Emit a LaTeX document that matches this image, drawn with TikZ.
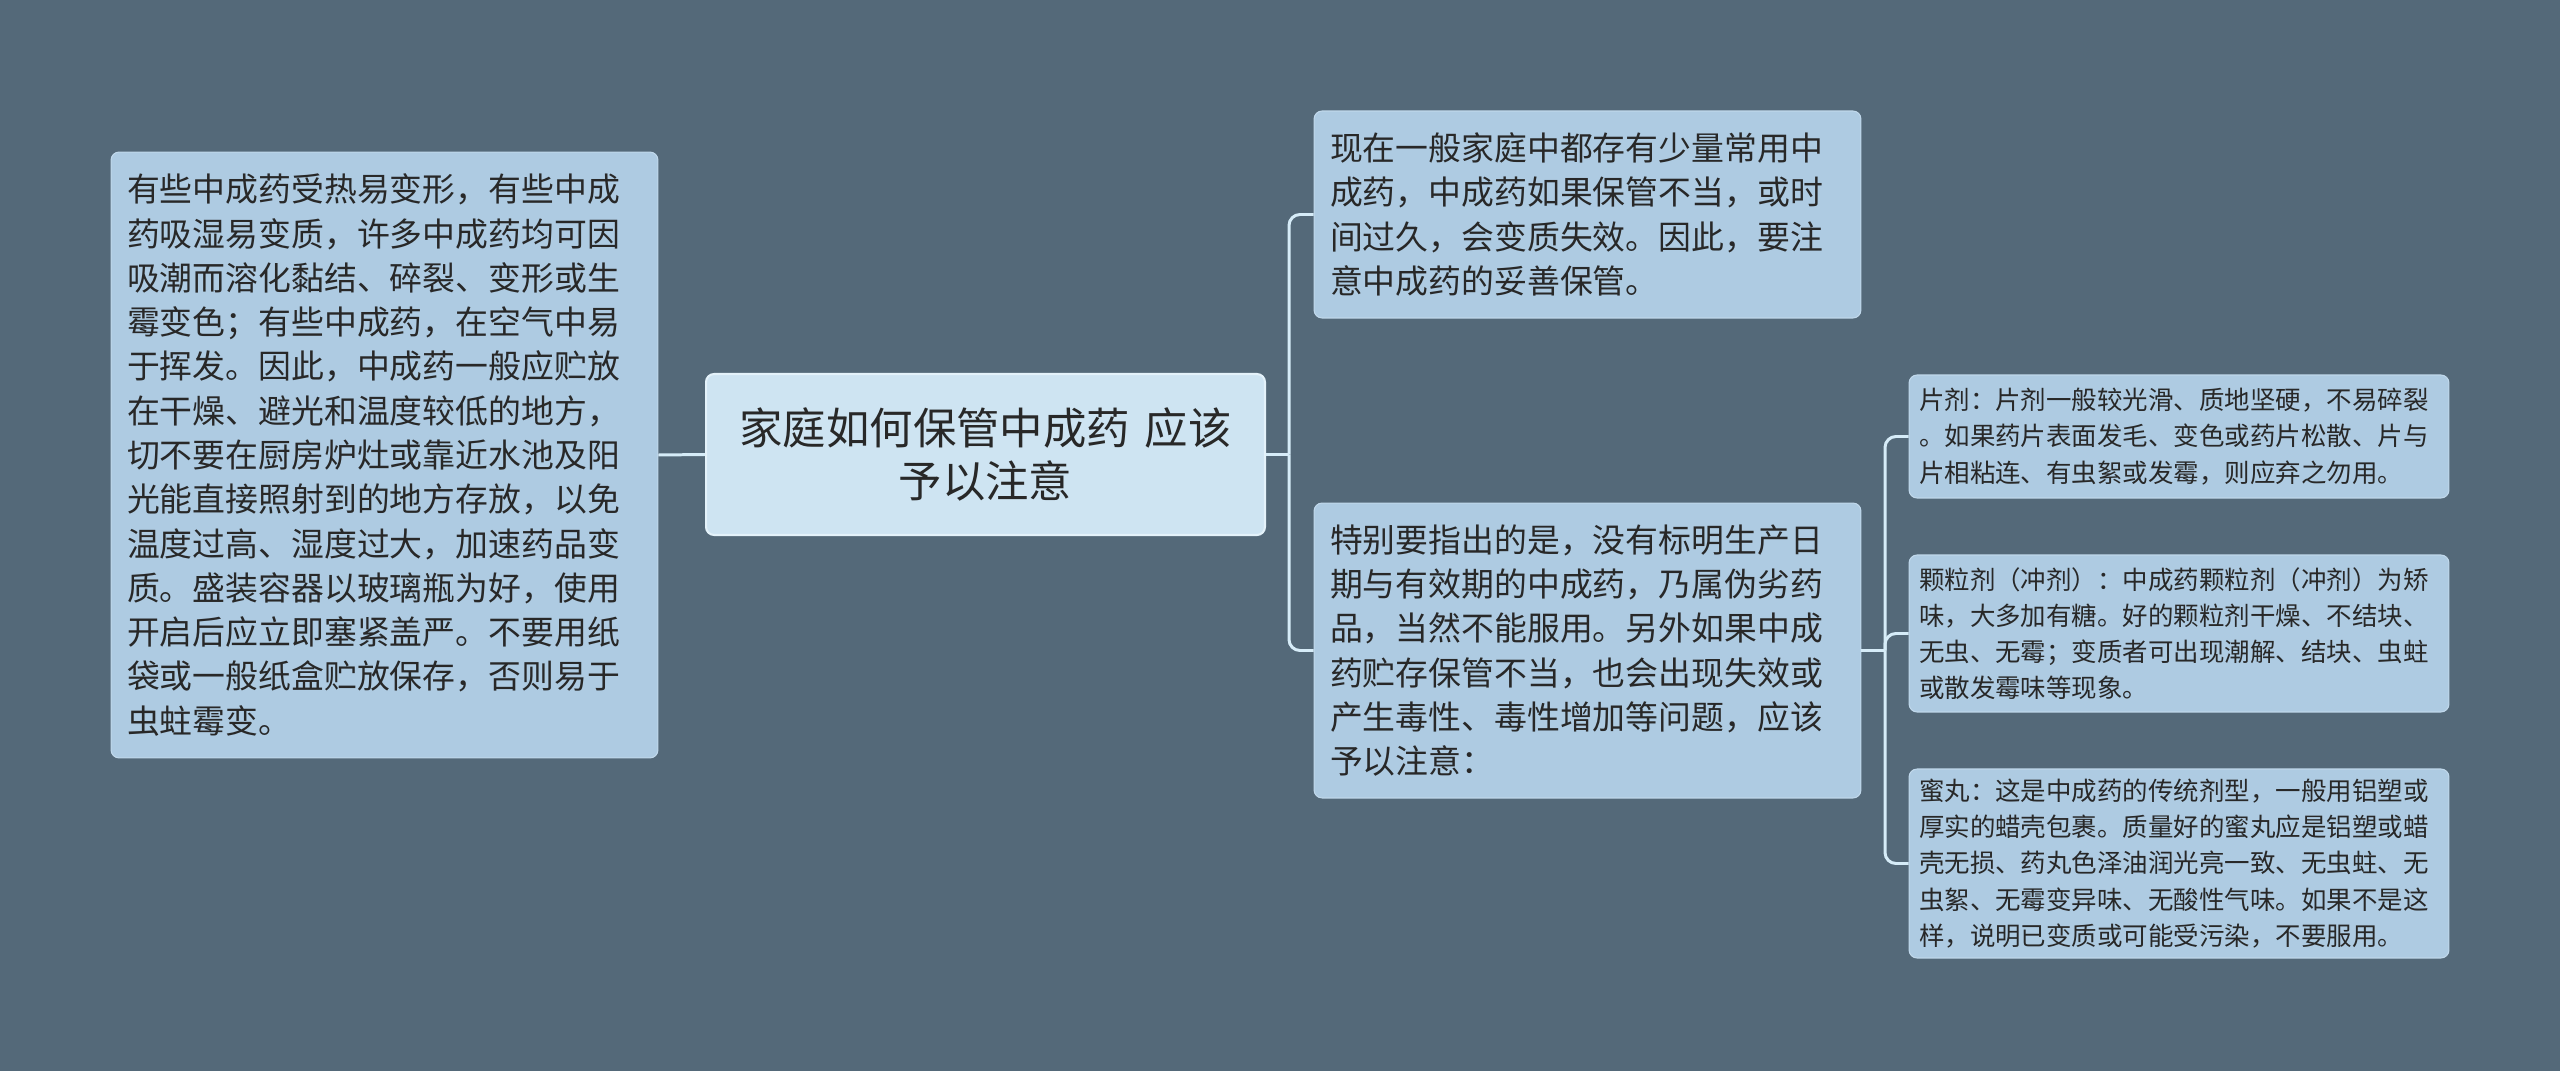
\documentclass[tikz,border=0pt]{standalone}
\usepackage{fontspec}
\newfontfamily\cjk{Noto Sans CJK SC}
\definecolor{slatebg}{RGB}{84, 105, 121}
\definecolor{boxblue}{RGB}{174, 203, 226}
\definecolor{boxedge}{RGB}{192, 216, 235}
\definecolor{rootblue}{RGB}{206, 228, 242}
\definecolor{rootedge}{RGB}{228, 242, 250}
\definecolor{linkblue}{RGB}{214, 236, 248}
\definecolor{inkdark}{RGB}{40, 40, 40}
\usetikzlibrary{positioning, calc}

\tikzset{
  notebox/.style={draw=boxedge, fill=boxblue, rounded corners=0.16cm, line width=0.6pt,
    text=inkdark, align=left, inner xsep=0.32cm, inner ysep=0pt,
    minimum width=10.94cm, text width=10.3cm,
    font=\cjk\fontsize{18.7pt}{25.2pt}\selectfont},
  smallbox/.style={notebox, inner xsep=0.2cm, minimum width=10.8cm, text width=10.4cm,
    font=\cjk\fontsize{14.5pt}{20.6pt}\selectfont},
  rootbox/.style={notebox, draw=rootedge, fill=rootblue, line width=1.2pt, align=center,
    minimum width=11.18cm, text width=10.5cm,
    font=\cjk\fontsize{24.7pt}{30.6pt}\selectfont},
  link/.style={draw=linkblue, line width=1.7pt},
}

\begin{document}
\begin{tikzpicture}[x=0.02cm, y=-0.02cm]
  % Background
  \fill[slatebg] (0,0) rectangle (2560,1071);
  \useasboundingbox (0,0) rectangle (2560,1071);

  % Root topic
  \node[rootbox, minimum height=3.22cm] (root) at (985.5,454.5) {家庭如何保管中成药 应该\\予以注意};

  % Left branch
  \node[notebox, minimum height=12.12cm] (store) at (384.5,455) {
    有些中成药受热易变形，有些中成\\
    药吸湿易变质，许多中成药均可因\\
    吸潮而溶化黏结、碎裂、变形或生\\
    霉变色；有些中成药，在空气中易\\
    于挥发。因此，中成药一般应贮放\\
    在干燥、避光和温度较低的地方，\\
    切不要在厨房炉灶或靠近水池及阳\\
    光能直接照射到的地方存放，以免\\
    温度过高、湿度过大，加速药品变\\
    质。盛装容器以玻璃瓶为好，使用\\
    开启后应立即塞紧盖严。不要用纸\\
    袋或一般纸盒贮放保存，否则易于\\
    虫蛀霉变。
  };

  % Right branch
  \node[notebox, minimum height=4.14cm] (intro) at (1587.5,214.5) {
    现在一般家庭中都存有少量常用中\\
    成药，中成药如果保管不当，或时\\
    间过久，会变质失效。因此，要注\\
    意中成药的妥善保管。
  };
  \node[notebox, minimum height=5.9cm] (warn) at (1587.5,650.5) {
    特别要指出的是，没有标明生产日\\
    期与有效期的中成药，乃属伪劣药\\
    品，当然不能服用。另外如果中成\\
    药贮存保管不当，也会出现失效或\\
    产生毒性、毒性增加等问题，应该\\
    予以注意：
  };

  % Dosage forms
  \node[smallbox, minimum height=2.46cm] (tablet) at (2179,436.5) {
    片剂：片剂一般较光滑、质地坚硬，不易碎裂\\
    。如果药片表面发毛、变色或药片松散、片与\\
    片相粘连、有虫絮或发霉，则应弃之勿用。
  };
  \node[smallbox, minimum height=3.14cm] (granule) at (2179,633.5) {
    颗粒剂（冲剂）：中成药颗粒剂（冲剂）为矫\\
    味，大多加有糖。好的颗粒剂干燥、不结块、\\
    无虫、无霉；变质者可出现潮解、结块、虫蛀\\
    或散发霉味等现象。
  };
  \node[smallbox, minimum height=3.78cm] (pill) at (2179,863.5) {
    蜜丸：这是中成药的传统剂型，一般用铝塑或\\
    厚实的蜡壳包裹。质量好的蜜丸应是铝塑或蜡\\
    壳无损、药丸色泽油润光亮一致、无虫蛀、无\\
    虫絮、无霉变异味、无酸性气味。如果不是这\\
    样，说明已变质或可能受污染，不要服用。
  };

  % Connectors
  \coordinate (rootjoin) at (1289,454.5);
  \coordinate (warnjoin) at (1885,650.5);
  \draw[link] (root.west) -- (store.east);
  \draw[link] (root.east) -- (rootjoin);
  \draw[link, rounded corners=0.22cm] (rootjoin) |- (intro.west);
  \draw[link, rounded corners=0.22cm] (rootjoin) |- (warn.west);
  \draw[link] (warn.east) -- (warnjoin);
  \draw[link, rounded corners=0.22cm] (warnjoin) |- (tablet.west);
  \draw[link, rounded corners=0.22cm] (warnjoin) |- (granule.west);
  \draw[link, rounded corners=0.22cm] (warnjoin) |- (pill.west);
\end{tikzpicture}
\end{document}
